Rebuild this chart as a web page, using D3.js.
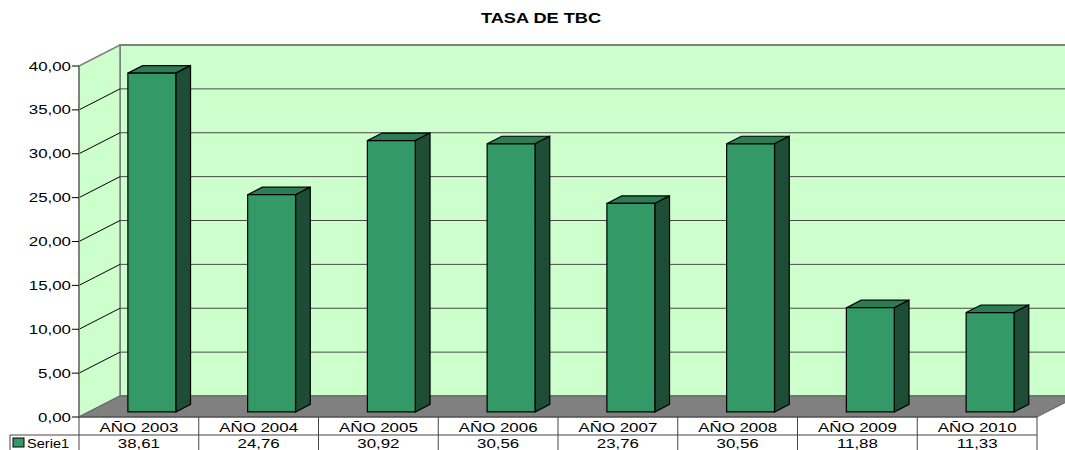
<!DOCTYPE html>
<meta charset="utf-8">
<head>
    <title>TASA DE TBC</title>
    <style>
        body { margin: 0; background: #fff; }
        text { font-family: "Liberation Sans", Arial, sans-serif; }
    </style>
</head>

<script src="https://d3js.org/d3.v7.min.js"></script>

<div id="dataVis"></div>

<script>

    // chart data
    var categories = ["AÑO 2003", "AÑO 2004", "AÑO 2005", "AÑO 2006", "AÑO 2007", "AÑO 2008", "AÑO 2009", "AÑO 2010"];
    var values = [38.61, 24.76, 30.92, 30.56, 23.76, 30.56, 11.88, 11.33];
    var yTicks = [0, 5, 10, 15, 20, 25, 30, 35, 40];
    var seriesName = "Serie1";

    var width = 1065, height = 450;

    // front plane of the 3d box, plus depth offset
    var plotLeft = 79, plotRight = 1037, plotTop = 66, plotBottom = 417;
    var DX = 41, DY = -21;
    var stretch = 1.3; // the original text is a bit wide

    var svg = d3.select("#dataVis")
        .append("svg")
        .attr("width", width)
        .attr("height", height);

    var x = d3.scaleBand()
        .domain(categories)
        .range([plotLeft, plotRight]);

    var y = d3.scaleLinear()
        .domain([0, 40])
        .range([plotBottom, plotTop]);

    var fmt = function (v) { return d3.format(".2f")(v).replace(".", ","); };

    // project a point of the front plane to depth f (0 = front, 1 = back wall)
    function p(px, py, f) { return [px + DX * f, py + DY * f]; }
    function poly(pts) { return pts.map(function (d) { return d.join(","); }).join(" "); }
    function label(g, tx, ty, str, anchor, size, sx) {
        return g.append("text")
            .attr("transform", "translate(" + tx + "," + ty + ") scale(" + (sx || stretch) + ",1)")
            .attr("text-anchor", anchor)
            .style("font-size", size + "px")
            .text(str);
    }

    // title
    label(svg, 541, 23, "TASA DE TBC", "middle", 14).style("font-weight", "bold");

    // back wall
    svg.append("polygon")
        .attr("points", poly([p(plotLeft, y(40), 1), p(plotRight, y(40), 1), p(plotRight, y(0), 1), p(plotLeft, y(0), 1)]))
        .attr("fill", "#ccffcc")
        .attr("stroke", "#808080")
        .attr("stroke-width", 2);

    // left wall
    svg.append("polygon")
        .attr("points", poly([p(plotLeft, y(40), 0), p(plotLeft, y(40), 1), p(plotLeft, y(0), 1), p(plotLeft, y(0), 0)]))
        .attr("fill", "#ccffcc")
        .attr("stroke", "#808080")
        .attr("stroke-width", 1.5);

    // gridlines
    var grid = svg.append("g");
    yTicks.filter(function (t) { return t > 0 && t < 40; }).forEach(function (t) {
        var a = p(plotLeft, y(t), 1), b = p(plotRight, y(t), 1);
        grid.append("line")
            .attr("x1", a[0]).attr("y1", a[1]).attr("x2", b[0]).attr("y2", b[1])
            .attr("stroke", "#4a4a4a").attr("stroke-width", 1);
        grid.append("line")
            .attr("x1", plotLeft).attr("y1", y(t)).attr("x2", a[0]).attr("y2", a[1])
            .attr("stroke", "#000").attr("stroke-width", 1);
    });

    // floor
    svg.append("polygon")
        .attr("points", poly([p(plotLeft, y(0), 0), p(plotLeft, y(0), 1), p(plotRight, y(0), 1), p(plotRight, y(0), 0)]))
        .attr("fill", "#808080")
        .attr("stroke", "#666")
        .attr("stroke-width", 1);

    // y axis
    var axis = svg.append("g");
    axis.append("line")
        .attr("x1", plotLeft).attr("y1", y(40)).attr("x2", plotLeft).attr("y2", y(0))
        .attr("stroke", "#808080").attr("stroke-width", 2);
    yTicks.forEach(function (t) {
        axis.append("line")
            .attr("x1", plotLeft - 7).attr("y1", y(t)).attr("x2", plotLeft).attr("y2", y(t))
            .attr("stroke", "#000");
        label(axis, plotLeft - 8, y(t) + 4.5, fmt(t), "end", 13);
    });

    // bars
    var f0 = 0.24, f1 = 0.6;
    var bars = svg.append("g")
        .selectAll("g")
        .data(categories.map(function (c, i) { return { cat: c, v: values[i] }; }))
        .enter()
        .append("g");

    bars.each(function (d) {
        var g = d3.select(this);
        var x0 = x(d.cat) + 0.326 * x.bandwidth();
        var x1 = x0 + 0.40 * x.bandwidth();
        var yt = y(d.v), yb = y(0);
        // top
        g.append("polygon")
            .attr("points", poly([p(x0, yt, f0), p(x0, yt, f1), p(x1, yt, f1), p(x1, yt, f0)]))
            .attr("fill", "#2a7d55").attr("stroke", "#000").attr("stroke-width", 1.2);
        // side
        g.append("polygon")
            .attr("points", poly([p(x1, yt, f0), p(x1, yt, f1), p(x1, yb, f1), p(x1, yb, f0)]))
            .attr("fill", "#1d4d34").attr("stroke", "#000").attr("stroke-width", 1.2);
        // front
        g.append("polygon")
            .attr("points", poly([p(x0, yt, f0), p(x1, yt, f0), p(x1, yb, f0), p(x0, yb, f0)]))
            .attr("fill", "#339966").attr("stroke", "#000").attr("stroke-width", 1.2);
    });

    // data table
    var rowH = 18;
    var table = svg.append("g").attr("stroke", "#444").attr("stroke-width", 1);
    table.append("line").attr("x1", plotLeft).attr("y1", plotBottom).attr("x2", plotRight).attr("y2", plotBottom);
    table.append("line").attr("x1", 10).attr("y1", plotBottom + rowH).attr("x2", plotRight).attr("y2", plotBottom + rowH);
    table.append("line").attr("x1", 10).attr("y1", plotBottom + rowH).attr("x2", 10).attr("y2", height);
    categories.forEach(function (c) {
        table.append("line")
            .attr("x1", x(c) + x.bandwidth()).attr("y1", plotBottom)
            .attr("x2", x(c) + x.bandwidth()).attr("y2", height);
    });
    table.append("line").attr("x1", plotLeft).attr("y1", plotBottom).attr("x2", plotLeft).attr("y2", height);

    var cells = svg.append("g");
    categories.forEach(function (c, i) {
        var cx = x(c) + x.bandwidth() / 2;
        label(cells, cx, plotBottom + 14.5, c, "middle", 13);
        label(cells, cx, plotBottom + rowH + 13, fmt(values[i]), "middle", 13);
    });

    // legend key
    svg.append("rect")
        .attr("x", 13).attr("y", 438).attr("width", 11).attr("height", 9)
        .attr("fill", "#339966").attr("stroke", "#000");
    label(svg, 27, plotBottom + rowH + 13, seriesName, "start", 13, 1.12);

</script>
